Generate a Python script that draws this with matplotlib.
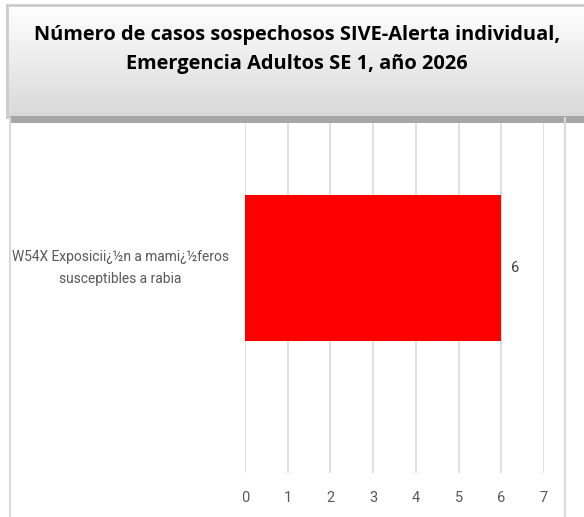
import numpy as np
import matplotlib.pyplot as plt
import matplotlib.transforms as mtransforms
from matplotlib.patches import Rectangle
from matplotlib.lines import Line2D

# data
categories = ["W54X Exposicii¿½n a mami¿½feros\nsusceptibles a rabia"]
values = [6]
x_ticks = [0, 1, 2, 3, 4, 5, 6, 7]
title = "Número de casos sospechosos SIVE-Alerta individual,\nEmergencia Adultos SE 1, año 2026"

W, H = 584, 517
fig = plt.figure(figsize=(W / 100, H / 100), dpi=100)
label_font = ["Roboto", "DejaVu Sans"]

# plot area (pixels): x 245..544 for 0..7, y 63..473
ax = fig.add_axes([245 / W, 1 - 473 / H, (544 - 245) / W, (473 - 63) / H])
y = np.arange(len(categories))
bars = ax.barh(y, values, height=0.354, color="#ff0000", zorder=3)
ax.set_xlim(0, 7)
ax.set_ylim(-0.5, 0.5)
ax.set_xticks(x_ticks)
ax.set_xticklabels([str(t) for t in x_ticks], fontsize=10.5, color="#595959",
                   family=label_font)
ax.tick_params(axis="x", length=0, pad=13)
ax.set_yticks([])
for s in ax.spines.values():
    s.set_visible(False)
ax.grid(axis="x", color="#d9d9d9", linewidth=1.2, zorder=0)

for b, v in zip(bars, values):
    ax.text(b.get_width() + 0.22, b.get_y() + b.get_height() / 2, str(v),
            va="center", ha="left", fontsize=10.5, color="#404040",
            family=label_font)

# category labels, centred near x=120 px
trans = mtransforms.blended_transform_factory(fig.transFigure, ax.transData)
for yi, c in zip(y, categories):
    ax.text(120 / W, yi, c, transform=trans, ha="center", va="center",
            fontsize=9.9, color="#595959", linespacing=1.8,
            family=label_font)

# chart frame lines
fig.add_artist(Line2D([9.5 / W, 9.5 / W], [0, 1 - 118 / H], color="#d9d9d9", lw=1.5))
fig.add_artist(Line2D([565 / W, 565 / W], [0, 1 - 118 / H], color="#d9d9d9", lw=1.5))

# title box with gradient and shadow
bx0, by0, bx1, by1 = 7, 5, 592, 117
fig.add_artist(Rectangle((10 / W, 1 - 123 / H), 1, 7 / H,
                         transform=fig.transFigure, facecolor="#a6a6a6",
                         edgecolor="none"))
gax = fig.add_axes([bx0 / W, 1 - by1 / H, (bx1 - bx0) / W, (by1 - by0) / H])
grad = np.linspace(1, 0, 100).reshape(-1, 1, 1)
top = np.array([1.0, 1.0, 1.0])
bot = np.array([0.85, 0.85, 0.85])
img = top * grad + bot * (1 - grad)
gax.imshow(img, aspect="auto", extent=[0, 1, 0, 1])
gax.set_xticks([])
gax.set_yticks([])
for s in gax.spines.values():
    s.set_color("#cccccc")
    s.set_linewidth(2)
gax.text(0.495, 0.60, title, ha="center", va="center", fontsize=14.4,
         fontweight="bold", color="#000000", linespacing=1.6,
         family=["Open Sans", "DejaVu Sans"], transform=gax.transAxes)

fig.savefig("out.png", dpi=100)
